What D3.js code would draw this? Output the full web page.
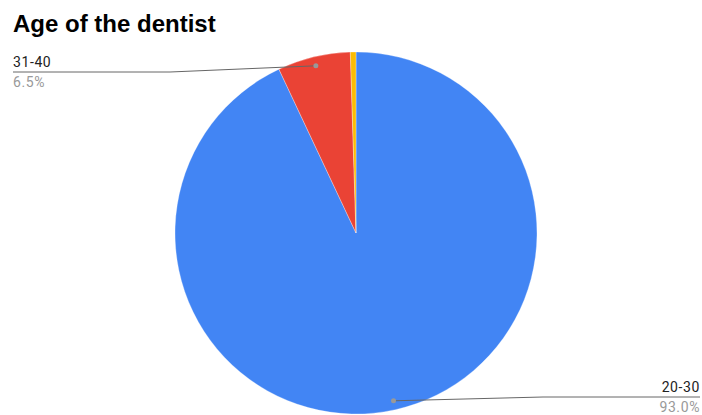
<!DOCTYPE html>
<html>
<head>
<meta charset="utf-8">
<script src="https://cdn.jsdelivr.net/npm/d3@7"></script>
<style>
  body { margin: 0; background: #fff; }
  svg { display: block; }
</style>
</head>
<body>
<div id="chart"></div>
<script>
var wi = 702;
var he = 415;

// data
var ageGroups = ["20-30", "31-40", "41-50"];
var shares = [93.0, 6.5, 0.5];
var sliceColors = ["#4285f4", "#ea4335", "#fbbc04"];

var cx = 356, cy = 233, radius = 181;

var svg = d3.select("#chart")
  .append("svg")
  .attr("width", wi)
  .attr("height", he);

svg.append("text")
  .attr("x", 13)
  .attr("y", 32)
  .attr("font-family", "Arial, 'Liberation Sans', sans-serif")
  .attr("font-weight", "bold")
  .attr("font-size", 24)
  .attr("fill", "#000")
  .text("Age of the dentist");

var pie = d3.pie()
  .sort(null)
  .value(function(d) { return d; });

var arc = d3.arc()
  .innerRadius(0)
  .outerRadius(radius);

var arcs = pie(shares);

var g = svg.append("g")
  .attr("transform", "translate(" + cx + "," + cy + ")");

g.selectAll("path")
  .data(arcs)
  .enter()
  .append("path")
  .attr("d", arc)
  .attr("fill", function(d, i) { return sliceColors[i]; })
  .attr("stroke", "#fff")
  .attr("stroke-width", 0.3);

// labels: only the two big slices get a callout
var labelInfo = [
  { idx: 0, side: "right", lineY: 397, elbowX: 543, endX: 700 },
  { idx: 1, side: "left", lineY: 72, elbowX: 170, endX: 13 }
];

var fmt = d3.format(".1f");

labelInfo.forEach(function(l) {
  var a = arcs[l.idx];
  var mid = (a.startAngle + a.endAngle) / 2;
  var r = radius * 0.95;
  var px = cx + Math.sin(mid) * r;
  var py = cy - Math.cos(mid) * r;

  svg.append("polyline")
    .attr("points", [[px, py], [l.elbowX, l.lineY], [l.endX, l.lineY]].map(function(p) { return p.join(","); }).join(" "))
    .attr("fill", "none")
    .attr("stroke", "#666")
    .attr("stroke-width", 1);

  svg.append("circle")
    .attr("cx", px)
    .attr("cy", py)
    .attr("r", 2.5)
    .attr("fill", "#999");

  var anchor = l.side == "right" ? "end" : "start";

  svg.append("text")
    .attr("x", l.endX)
    .attr("y", l.lineY - 5)
    .attr("text-anchor", anchor)
    .attr("font-family", "Roboto, sans-serif")
    .attr("font-size", 14)
    .attr("letter-spacing", 0.6)
    .attr("fill", "#222")
    .text(ageGroups[l.idx]);

  svg.append("text")
    .attr("x", l.endX)
    .attr("y", l.lineY + 15)
    .attr("text-anchor", anchor)
    .attr("font-family", "Roboto, sans-serif")
    .attr("font-size", 14)
    .attr("letter-spacing", 0.6)
    .attr("fill", "#999")
    .text(fmt(shares[l.idx]) + "%");
});
</script>
</body>
</html>
